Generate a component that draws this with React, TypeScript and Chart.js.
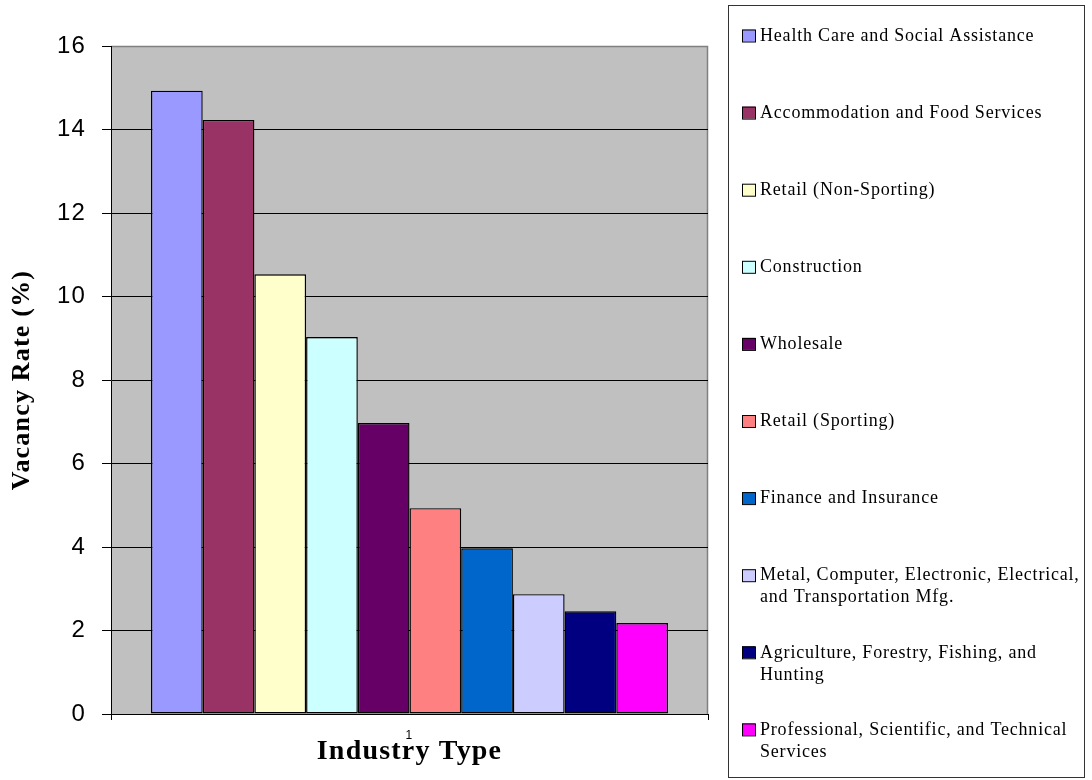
import React, { useEffect, useRef } from 'react';
import { Chart, registerables } from 'chart.js';

Chart.register(...registerables);

const categories = ['1'];
const industries = [
  'Health Care and Social Assistance',
  'Accommodation and Food Services',
  'Retail (Non-Sporting)',
  'Construction',
  'Wholesale',
  'Retail (Sporting)',
  'Finance and Insurance',
  'Metal, Computer, Electronic, Electrical, and Transportation Mfg.',
  'Agriculture, Forestry, Fishing, and Hunting',
  'Professional, Scientific, and Technical Services',
];
const vacancyRates = [14.93, 14.23, 10.53, 9.03, 6.97, 4.93, 3.97, 2.87, 2.46, 2.18];
const barColors = [
  '#9999FF', '#993366', '#FFFFCC', '#CCFFFF', '#660066',
  '#FF8080', '#0066CC', '#CCCCFF', '#000080', '#FF00FF',
];
const yMin = 0;
const yMax = 16;
const yStep = 2;
const xTitle = 'Industry Type';
const yTitle = 'Vacancy Rate (%)';

const plotBgPlugin = {
  id: 'plotBg',
  beforeDraw(chart: any) {
    const { ctx, chartArea } = chart;
    if (!chartArea) return;
    ctx.save();
    ctx.fillStyle = '#C0C0C0';
    ctx.fillRect(chartArea.left, chartArea.top, chartArea.right - chartArea.left, chartArea.bottom - chartArea.top);
    ctx.strokeStyle = '#808080';
    ctx.lineWidth = 1.5;
    ctx.beginPath();
    ctx.moveTo(chartArea.left, chartArea.top + 0.5);
    ctx.lineTo(chartArea.right - 0.5, chartArea.top + 0.5);
    ctx.lineTo(chartArea.right - 0.5, chartArea.bottom);
    ctx.stroke();
    ctx.restore();
    (ctx as any).letterSpacing = '1.2px';
  },
  beforeDatasetsDraw(chart: any) {
    (chart.ctx as any).letterSpacing = '0px';
  },
};

const sideLegendPlugin = {
  id: 'sideLegend',
  afterDraw(chart: any) {
    const ctx = chart.ctx as CanvasRenderingContext2D;
    ctx.save();
    ctx.strokeStyle = '#333333';
    ctx.lineWidth = 1;
    ctx.strokeRect(728.5, 5.5, 356, 772);
    ctx.font = '18px "Liberation Serif", "Times New Roman", serif';
    (ctx as any).letterSpacing = '0.8px';
    ctx.textBaseline = 'middle';
    ctx.textAlign = 'left';
    const maxW = 326;
    chart.data.datasets.forEach((ds: any, i: number) => {
      const cy = 35.5 + i * 77.1;
      ctx.fillStyle = ds.backgroundColor;
      ctx.fillRect(742, cy - 6, 13, 12);
      ctx.strokeStyle = '#000';
      ctx.strokeRect(742.5, cy - 5.5, 13, 12);
      const words = String(ds.label).split(' ');
      const lines: string[] = [];
      let cur = '';
      words.forEach((w) => {
        const test = cur ? cur + ' ' + w : w;
        if (cur && ctx.measureText(test).width > maxW) {
          lines.push(cur);
          cur = w;
        } else {
          cur = test;
        }
      });
      if (cur) lines.push(cur);
      ctx.fillStyle = '#000';
      lines.forEach((ln, j) => ctx.fillText(ln, 760, cy + 0.5 + j * 22));
    });
    (ctx as any).letterSpacing = '0px';
    ctx.restore();
  },
};

export default function App() {
  const canvasRef = useRef<HTMLCanvasElement | null>(null);

  useEffect(() => {
    if (!canvasRef.current) return;
    const chart = new Chart(canvasRef.current, {
      type: 'bar',
      data: {
        labels: categories,
        datasets: industries.map((name, i) => ({
          label: name,
          data: [vacancyRates[i]],
          backgroundColor: barColors[i],
          borderColor: '#000000',
          borderWidth: 1.4,
          borderSkipped: false,
          barPercentage: 1,
          categoryPercentage: 0.866,
        })),
      },
      options: {
        animation: false,
        responsive: true,
        maintainAspectRatio: false,
        layout: { padding: { left: 0, top: 46, right: 384, bottom: 0 } },
        plugins: {
          legend: { display: false },
          tooltip: { enabled: false },
        },
        scales: {
          x: {
            offset: true,
            grid: {
              display: true,
              drawOnChartArea: false,
              drawTicks: true,
              tickLength: 6,
              color: '#000',
              offset: true,
            },
            border: { display: true, color: '#000', width: 1 },
            ticks: {
              font: { family: '"Liberation Sans", Arial, sans-serif', size: 12 },
              color: '#000',
              padding: 8,
            },
            title: {
              display: true,
              text: xTitle,
              color: '#000',
              font: { family: '"Liberation Serif", "Times New Roman", serif', size: 28, weight: 'bold' },
              padding: { top: 0, bottom: 11 },
            },
            afterFit: (s: any) => {
              s.height = 66;
            },
          },
          y: {
            min: yMin,
            max: yMax,
            ticks: {
              stepSize: yStep,
              font: { family: '"Liberation Sans", Arial, sans-serif', size: 24 },
              color: '#000',
              padding: 16,
            },
            grid: {
              color: (c: any) => (c.tick && c.tick.value === yMax ? '#808080' : '#000'),
              tickColor: '#000',
              tickLength: 9,
              lineWidth: 1,
            },
            border: { display: true, color: '#000', width: 1 },
            title: {
              display: true,
              text: yTitle,
              color: '#000',
              font: { family: '"Liberation Serif", "Times New Roman", serif', size: 26, weight: 'bold' },
              padding: { top: 7, bottom: 0 },
            },
            afterFit: (s: any) => {
              s.width = 111;
            },
          },
        },
      } as any,
      plugins: [plotBgPlugin, sideLegendPlugin],
    });
    return () => chart.destroy();
  }, []);

  return (
    <div style={{ position: 'absolute', left: 0, top: 0, width: 1092, height: 780, background: '#fff' }}>
      <canvas ref={canvasRef} />
    </div>
  );
}
